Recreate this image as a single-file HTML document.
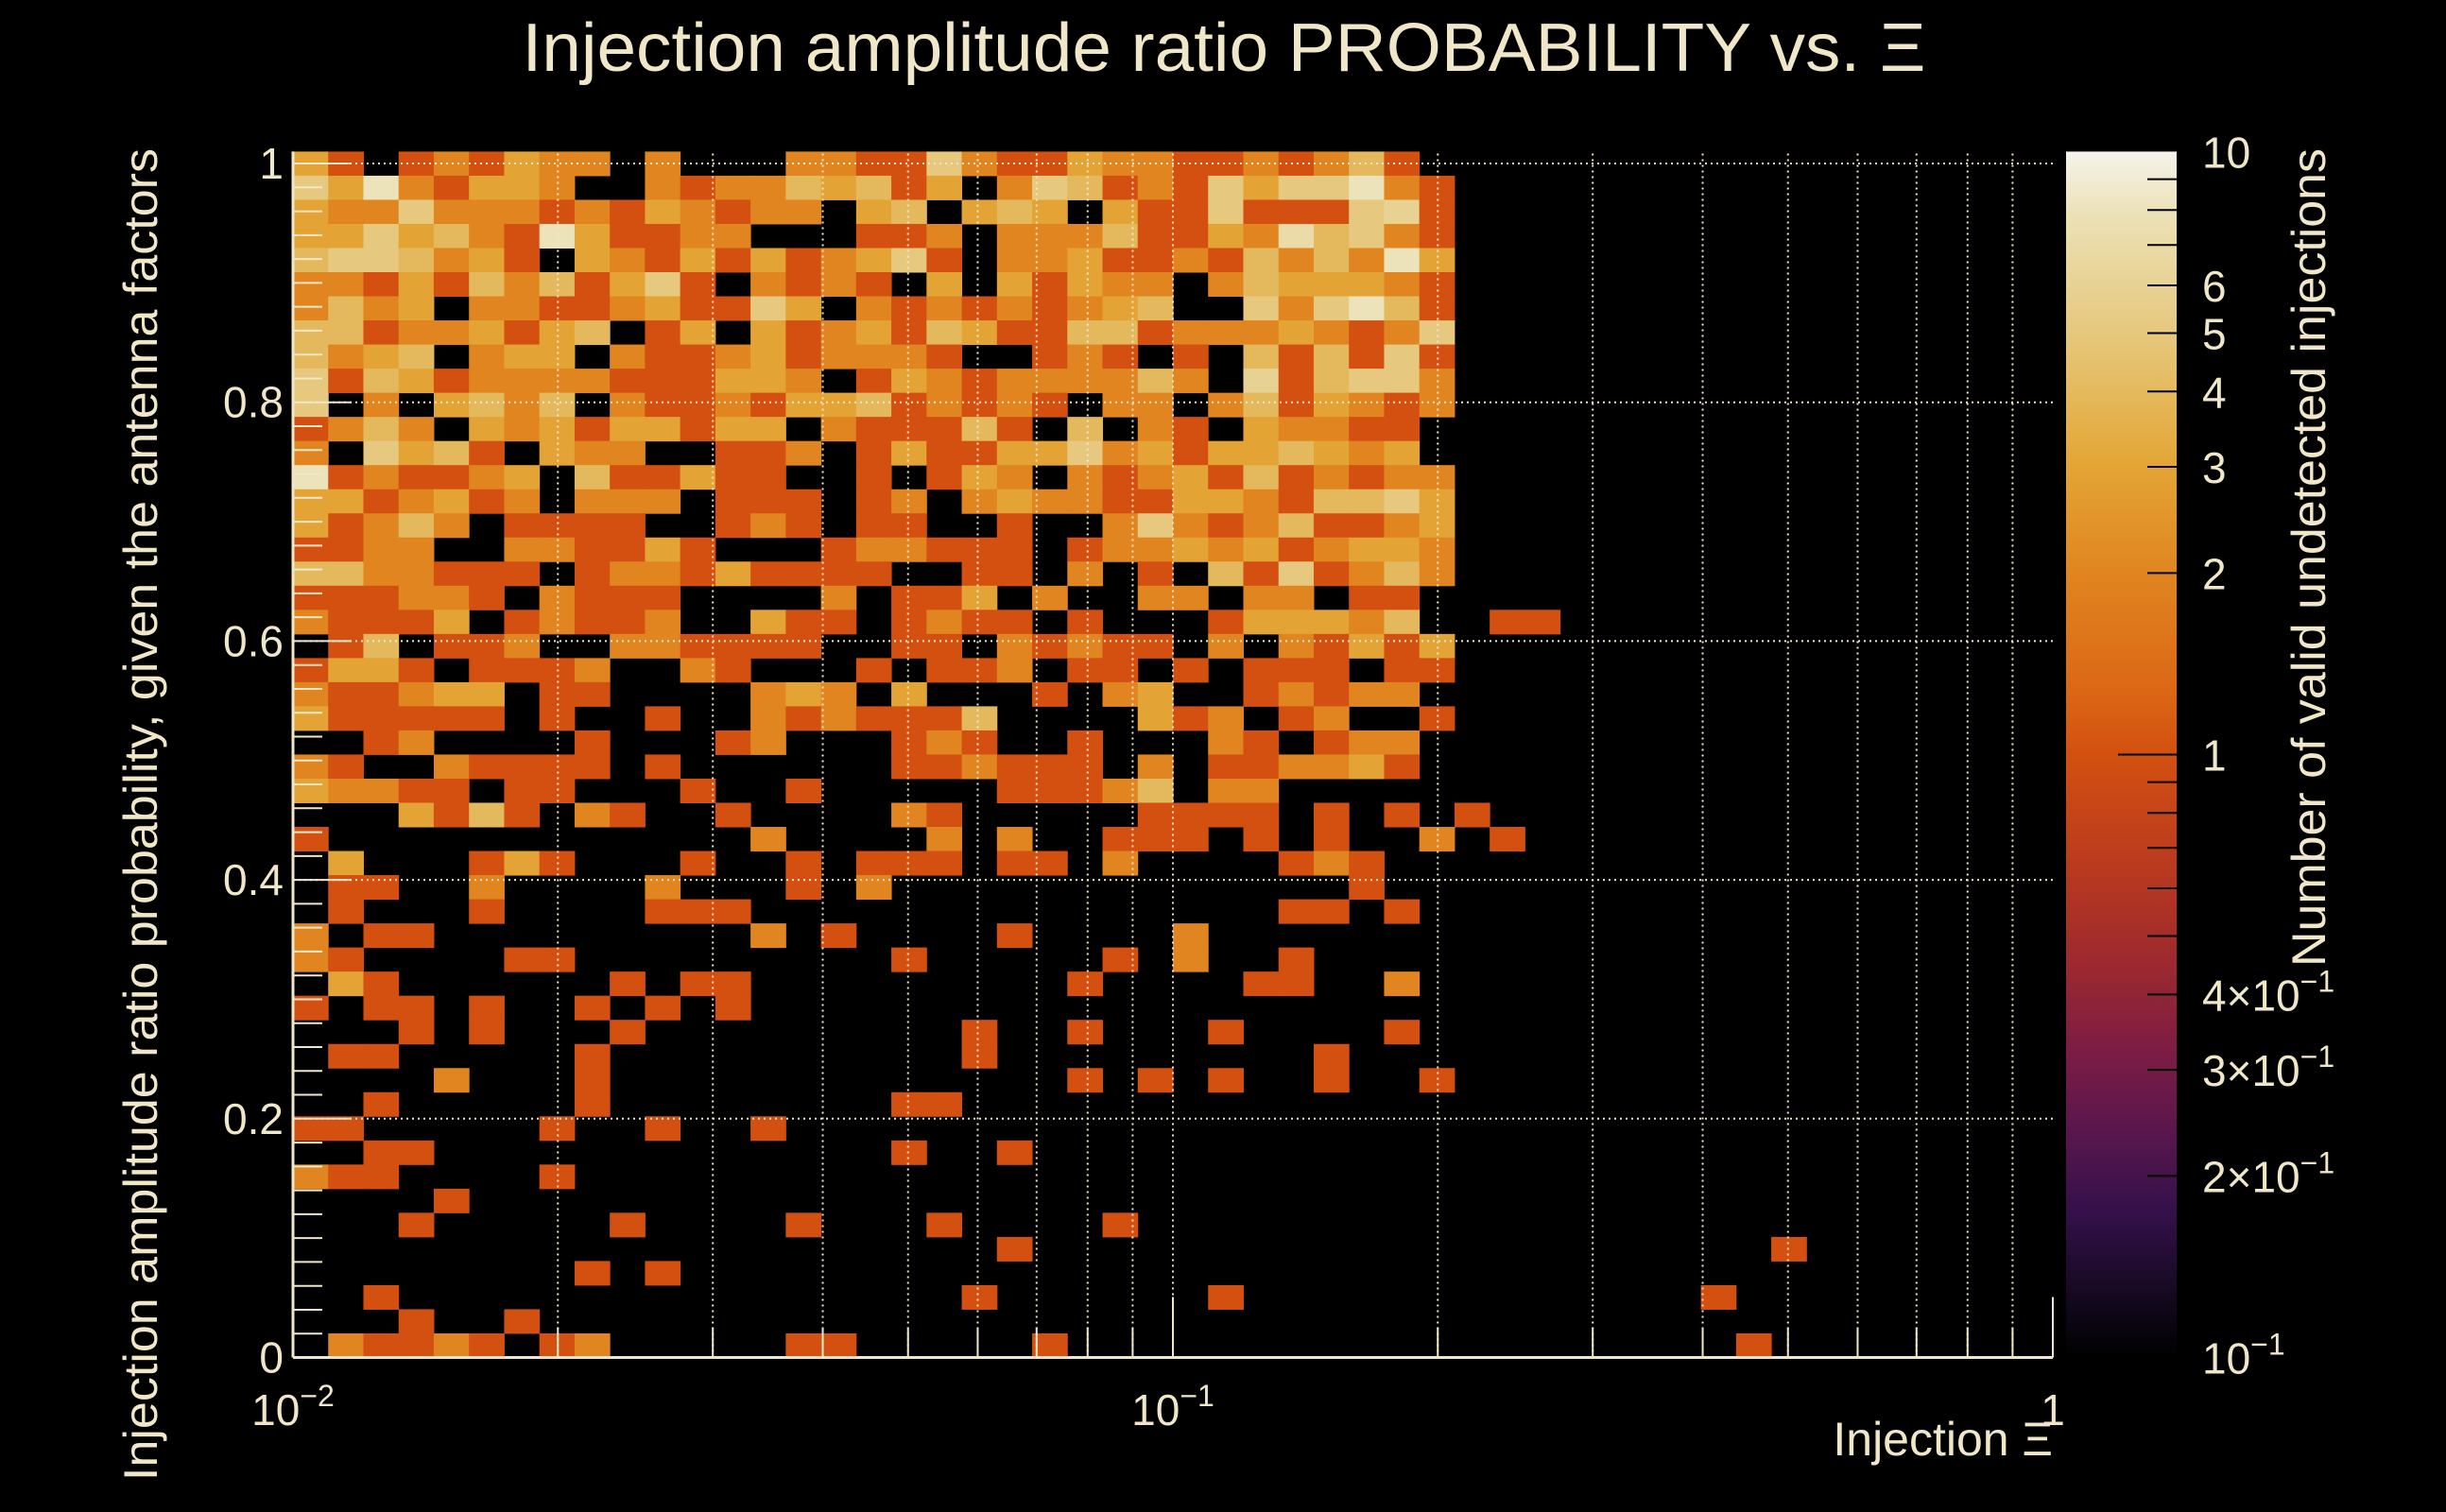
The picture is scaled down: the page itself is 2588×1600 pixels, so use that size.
<!DOCTYPE html>
<html>
<head>
<meta charset="utf-8">
<style>
  html,body{margin:0;padding:0;background:#000;}
  svg{display:block;}
  text{font-family:"Liberation Sans",sans-serif;fill:#f0e6c8;}
</style>
</head>
<body>
<svg id="chart" width="2588" height="1600" viewBox="0 0 2588 1600" xmlns="http://www.w3.org/2000/svg">
  <rect x="0" y="0" width="2588" height="1600" fill="#000"/>
  <defs>
    <linearGradient id="cbgrad" x1="0" y1="0" x2="0" y2="1">
      <stop offset="0" stop-color="#f5f3ec"/>
      <stop offset="0.05" stop-color="#ece2b8"/>
      <stop offset="0.11" stop-color="#e8d294"/>
      <stop offset="0.15" stop-color="#e6c87e"/>
      <stop offset="0.2" stop-color="#e4b95c"/>
      <stop offset="0.26" stop-color="#e3a535"/>
      <stop offset="0.35" stop-color="#e08520"/>
      <stop offset="0.45" stop-color="#db6615"/>
      <stop offset="0.5" stop-color="#d35010"/>
      <stop offset="0.6" stop-color="#b83820"/>
      <stop offset="0.68" stop-color="#9a2830"/>
      <stop offset="0.75" stop-color="#7a1c45"/>
      <stop offset="0.82" stop-color="#55164d"/>
      <stop offset="0.88" stop-color="#34104a"/>
      <stop offset="0.94" stop-color="#180a25"/>
      <stop offset="1" stop-color="#000000"/>
    </linearGradient>
  </defs>
  <g id="cells"></g>
  <g id="grid"></g>
  <g id="axes"></g>
  <g id="colorbar"></g>
  <text x="1295" y="75" font-size="72" text-anchor="middle" textLength="1485" lengthAdjust="spacingAndGlyphs">Injection amplitude ratio PROBABILITY vs.  Ξ</text>
  <text x="2172" y="1540" font-size="50" text-anchor="end">Injection Ξ</text>
  <text transform="translate(166,157) rotate(-90)" font-size="50" text-anchor="end" textLength="1410" lengthAdjust="spacingAndGlyphs">Injection amplitude ratio probability, given the antenna factors</text>
  <text transform="translate(2460,157) rotate(-90)" font-size="50" text-anchor="end" textLength="866" lengthAdjust="spacingAndGlyphs">Number of valid undetected injections</text>
</svg>
<script>
// ---- data ----
const nXBins = 50;
const xMin = 0.01, xMax = 1;
const nYBins = 50;
const yMin = 0, yMax = 1.01;
// rows from top (bin 49) to bottom (bin 0); digit = count; spaces ignored
const rows = [
"310121322020002211521 132211212410",
"538213320021224341302 541215355821",
"322522212132122034034 303115111561",
"335342183112200011202 224113274521",
"455423103213131235102 231121424283",
"221314241351021210303 132202433321",
"242302211231153021212 123400525841",
"441223134013031231431 144122232125",
"423402330211231222100 121010414151",
"514312222111332013212 222420614552",
"502034240211213341212 102202413212",
"124203231331330211141 040210322110",
"205341032200112013113 352313343230",
"812112304113110010132 021231412122",
"331231202220111012023 221133214453",
"312420111100121011001 002521241123",
"112200221131000122111 012232312332",
"442211101221311110011 020104151242",
"111221021110000201130 200220220110",
"211130121120031101211 010001333240 011",
"014011200221111001102 121102021313",
"133101112002100010112 011010111011",
"211233011000023203000 102300121220",
"311111010010021211140 000312012001",
"001200001000120001210 010002101220",
"21002 11110 10000 00112 11102 01122 31",
"32211 01100 01001 00000 11124 02200",
"00031 41021 00100 00210 00001 11101 01010",
"10000 00000 00020 00020 20011 10101 00201",
"03000 13100 01001 01110 11020 00012 1",
"01100 20000 20001 02000 00000 00000 1",
"01000 10000 11100 00000 00000 00011 01",
"20110 00000 00020 10000 10000 2",
"21000 01100 00000 00100 00010 20010",
"03100 00001 01100 00000 00100 00110 02",
"10110 10010 10100",
"00010 10001 00000 00001 00100 01000 01",
"01100 00010 00000 00001 00000 00001",
"00002 00010 00000 00000 00101 01001 001",
"00100 00010 00000 00110",
"11000 00100 10010",
"00110 00000 00000 00100 1",
"21100 00100",
"00001",
"00010 00001 00001 00010 00010",
"00000 00000 00000 00000 10000 00000 00000 00000 001",
"00000 00010 1",
"00100 00000 00000 00001 00000 01000 00000 00000 1",
"00010 01",
"02112 10120 00001 10000 01000 00000 00000 00000 01"
];
const yTickValues = [0, 0.2, 0.4, 0.6, 0.8, 1];
const yTickLabels = ["0", "0.2", "0.4", "0.6", "0.8", "1"];
const xTickValues = [0.01, 0.1, 1];
const cbTickValues = [10, 6, 5, 4, 3, 2, 1, 0.4, 0.3, 0.2, 0.1];
const cbTickLabels = ["10", "6", "5", "4", "3", "2", "1", "4×10", "3×10", "2×10", "10"];
const cbTickExps = ["", "", "", "", "", "", "", "−1", "−1", "−1", "−1"];

// ---- geometry ----
const PX0 = 310, PX1 = 2172, PY0 = 1436.5, PY1 = 160.4;
const CB_X0 = 2186, CB_X1 = 2303, CB_Y0 = 1436.5, CB_Y1 = 160.4;
const cMin = 0.1, cMax = 10;
function xScale(v){ return PX0 + (Math.log10(v) - Math.log10(xMin)) / (Math.log10(xMax) - Math.log10(xMin)) * (PX1 - PX0); }
function yScale(v){ return PY0 - (v - yMin) / (yMax - yMin) * (PY0 - PY1); }
function cScale(v){ return CB_Y0 - (Math.log10(v) - Math.log10(cMin)) / (Math.log10(cMax) - Math.log10(cMin)) * (CB_Y0 - CB_Y1); }
const stops = [[0,"#f5f3ec"],[0.05,"#ece2b8"],[0.11,"#e8d294"],[0.15,"#e6c87e"],[0.2,"#e4b95c"],[0.26,"#e3a535"],[0.35,"#e08520"],[0.45,"#db6615"],[0.5,"#d35010"],[0.6,"#b83820"],[0.68,"#9a2830"],[0.75,"#7a1c45"],[0.82,"#55164d"],[0.88,"#34104a"],[0.94,"#180a25"],[1,"#000000"]];
function hex(h){ return [parseInt(h.slice(1,3),16),parseInt(h.slice(3,5),16),parseInt(h.slice(5,7),16)]; }
function colorFor(v){
  const f = 1 - (Math.log10(v) - Math.log10(cMin)) / (Math.log10(cMax) - Math.log10(cMin));
  for (let i = 1; i < stops.length; i++){
    if (f <= stops[i][0]){
      const t = (f - stops[i-1][0]) / (stops[i][0] - stops[i-1][0]);
      const a = hex(stops[i-1][1]), b = hex(stops[i][1]);
      return "rgb(" + a.map((x,k)=>Math.round(x + (b[k]-x)*t)).join(",") + ")";
    }
  }
  return stops[stops.length-1][1];
}
const NS = "http://www.w3.org/2000/svg";
function mk(tag, attrs, parent){
  const e = document.createElementNS(NS, tag);
  for (const k in attrs) e.setAttribute(k, attrs[k]);
  parent.appendChild(e);
  return e;
}

// ---- cells ----
const cellsG = document.getElementById("cells");
const lxMin = Math.log10(xMin), lxMax = Math.log10(xMax);
rows.forEach((rs, ri) => {
  const s = rs.replace(/ /g, "");
  const yb = nYBins - 1 - ri;
  for (let c = 0; c < s.length; c++){
    const v = parseInt(s[c], 10);
    if (!v) continue;
    const xa = Math.pow(10, lxMin + (lxMax - lxMin) * c / nXBins);
    const xb = Math.pow(10, lxMin + (lxMax - lxMin) * (c + 1) / nXBins);
    const ya = yMin + (yMax - yMin) * yb / nYBins;
    const ybv = yMin + (yMax - yMin) * (yb + 1) / nYBins;
    const r = mk("rect", {x: xScale(xa), y: yScale(ybv), width: xScale(xb) - xScale(xa) + 0.5, height: yScale(ya) - yScale(ybv) + 0.5, fill: colorFor(v)}, cellsG);
    
    
  }
});

// ---- grid ----
const gridG = document.getElementById("grid");
const gridStyle = {stroke: "#f0e6c8", "stroke-width": 2, "stroke-dasharray": "2,4"};
[0.01,0.02,0.03,0.04,0.05,0.06,0.07,0.08,0.09,0.1,0.2,0.3,0.4,0.5,0.6,0.7,0.8,0.9].forEach(v => {
  const X = xScale(v);
  const l = mk("line", Object.assign({x1: X, x2: X, y1: PY0, y2: PY1}, gridStyle), gridG);
  
  
});
yTickValues.forEach(v => {
  const Y = yScale(v);
  const l = mk("line", Object.assign({x1: PX0, x2: PX1, y1: Y, y2: Y}, gridStyle), gridG);
  
  
});

// ---- axes ----
const axG = document.getElementById("axes");
const axStyle = {stroke: "#f0e6c8", "stroke-width": 3};
let a1 = mk("line", Object.assign({x1: PX0, x2: PX0, y1: PY0, y2: PY1}, axStyle), axG);


let a2 = mk("line", Object.assign({x1: PX0, x2: PX1, y1: PY0, y2: PY0}, axStyle), axG);


// y ticks (major + minor)
for (let i = 0; i <= 50; i++){
  const v = i * 0.02;
  if (v > 1.0001) break;
  const major = (i % 10 === 0);
  const Y = yScale(v);
  const t = mk("line", {x1: PX0, x2: PX0 + (major ? 62 : 31), y1: Y, y2: Y, stroke: "#f0e6c8", "stroke-width": 2}, axG);
  
  
}
yTickValues.forEach((v, i) => {
  const t = mk("text", {x: 300, y: yScale(v) + 16, "font-size": 46, "text-anchor": "end"}, axG);
  t.textContent = yTickLabels[i];
  
  
});
// x ticks
[0.01,0.02,0.03,0.04,0.05,0.06,0.07,0.08,0.09,0.1,0.2,0.3,0.4,0.5,0.6,0.7,0.8,0.9,1].forEach(v => {
  const major = Math.abs(Math.log10(v) - Math.round(Math.log10(v))) < 1e-9;
  const X = xScale(v);
  const t = mk("line", {x1: X, x2: X, y1: PY0, y2: PY0 - (major ? 64 : 32), stroke: "#f0e6c8", "stroke-width": 2}, axG);
  
  
});
const xLabelTexts = [["10","−2"],["10","−1"],["1",""]];
xTickValues.forEach((v, i) => {
  const X = xScale(v);
  const t = mk("text", {x: X, y: 1508, "font-size": 46, "text-anchor": "middle"}, axG);
  t.textContent = xLabelTexts[i][0];
  if (xLabelTexts[i][1]){
    const sp = mk("tspan", {dy: -20, "font-size": 32}, t);
    sp.textContent = xLabelTexts[i][1];
  }
  
  
});

// ---- colorbar ----
const cbG = document.getElementById("colorbar");
const cbr = mk("rect", {x: CB_X0, y: CB_Y1, width: CB_X1 - CB_X0, height: CB_Y0 - CB_Y1, fill: "url(#cbgrad)"}, cbG);


[9,8,7,6,5,4,3,2,1,0.9,0.8,0.7,0.6,0.5,0.4,0.3,0.2].forEach(v => {
  const Y = cScale(v);
  const t = mk("line", {x1: v === 1 ? CB_X1 - 62 : CB_X1 - 31, x2: CB_X1, y1: Y, y2: Y, stroke: "#000", "stroke-width": 2}, cbG);
  
  
});
cbTickValues.forEach((v, i) => {
  const t = mk("text", {x: 2330, y: cScale(v) + 17, "font-size": 46}, cbG);
  t.textContent = cbTickLabels[i];
  if (cbTickExps[i]){
    const sp = mk("tspan", {dy: -20, "font-size": 32}, t);
    sp.textContent = cbTickExps[i];
  }
  
  
});
</script>
</body>
</html>
